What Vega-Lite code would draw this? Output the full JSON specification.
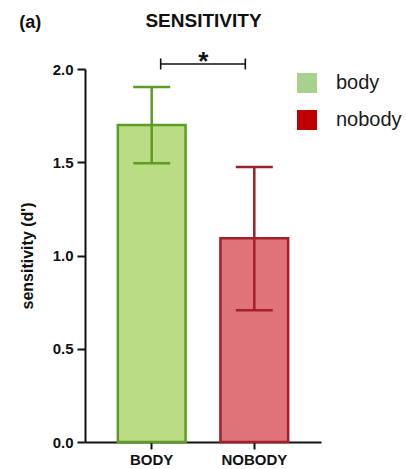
{
  "$schema": "https://vega.github.io/schema/vega-lite/v6.json",
  "width": 236,
  "height": 373,
  "autosize": "none",
  "padding": {"left": 85, "top": 69, "right": 85, "bottom": 27},
  "config": {"font": "Liberation Sans", "view": {"stroke": null}},
  "title": {"text": "(a)", "anchor": "start", "frame": "bounds", "fontSize": 18, "fontWeight": "bold", "color": "#111", "dy": 25},
  "datasets": {
    "bars": [
      {"condition": "BODY", "group": "body", "mean": 1.70, "lo": 1.495, "hi": 1.903},
      {"condition": "NOBODY", "group": "nobody", "mean": 1.093, "lo": 0.707, "hi": 1.475}
    ],
    "sig": [{"from": "BODY", "to": "NOBODY", "y": 2.027, "label": "*"}]
  },
  "resolve": {"axis": {"x": "independent"}},
  "layer": [
    {
      "data": {"name": "bars"},
      "mark": {"type": "bar", "strokeWidth": 2.5},
      "encoding": {
        "x": {"field": "condition", "type": "nominal", "sort": ["BODY", "NOBODY"],
          "scale": {"domain": ["BODY", "NOBODY"], "paddingInner": 0.34, "paddingOuter": 0.32},
          "axis": {"title": null, "labelAngle": 0, "domainColor": "#111", "domainWidth": 2, "tickColor": "#111", "tickWidth": 2, "tickSize": 7, "labelFontSize": 15, "labelFontWeight": "bold", "labelColor": "#111", "labelPadding": 3}},
        "y": {"field": "mean", "type": "quantitative",
          "scale": {"domain": [0, 2], "nice": false},
          "axis": {"title": "sensitivity (d')", "values": [0, 0.5, 1, 1.5, 2], "format": ".1f", "grid": false, "domainColor": "#111", "domainWidth": 2, "tickColor": "#111", "tickWidth": 2, "tickSize": 8, "labelFontSize": 15, "labelFontWeight": "bold", "labelColor": "#111", "labelPadding": 4, "titleFontSize": 16, "titleFontWeight": "bold", "titleColor": "#111", "titlePadding": 17}},
        "fill": {"field": "condition", "type": "nominal", "scale": {"domain": ["BODY", "NOBODY"], "range": ["#b9dc84", "#e0737a"]}, "legend": null},
        "stroke": {"field": "condition", "type": "nominal", "scale": {"domain": ["BODY", "NOBODY"], "range": ["#5e9c24", "#a31f29"]}, "legend": null}
      }
    },
    {
      "data": {"name": "bars"},
      "mark": {"type": "rule", "strokeWidth": 2.5},
      "encoding": {
        "x": {"field": "condition", "type": "nominal", "axis": null},
        "y": {"field": "lo", "type": "quantitative"},
        "y2": {"field": "hi"},
        "stroke": {"field": "condition", "type": "nominal", "legend": null}
      }
    },
    {
      "data": {"name": "bars"},
      "transform": [{"fold": ["lo", "hi"], "as": ["end", "v"]}],
      "mark": {"type": "rule", "strokeWidth": 2.5, "xOffset": -18.5, "x2Offset": 18.5},
      "encoding": {
        "x": {"field": "condition", "type": "nominal", "axis": null},
        "x2": {"field": "condition"},
        "y": {"field": "v", "type": "quantitative"},
        "stroke": {"field": "condition", "type": "nominal", "legend": null}
      }
    },
    {
      "data": {"name": "bars"},
      "mark": {"type": "point", "shape": "square", "filled": true, "opacity": 0},
      "encoding": {
        "x": {"field": "condition", "type": "nominal", "axis": null},
        "y": {"field": "mean", "type": "quantitative"},
        "color": {"field": "group", "type": "nominal",
          "scale": {"domain": ["body", "nobody"], "range": ["#a9d18e", "#c00000"]},
          "legend": {"title": null, "orient": "none", "legendX": 212, "legendY": 4, "padding": 0, "symbolType": "square", "symbolSize": 400, "symbolOpacity": 1, "symbolStrokeWidth": 0, "labelFontSize": 20, "labelColor": "#1a1a1a", "labelOffset": 19, "rowPadding": 17}}
      }
    },
    {
      "data": {"name": "sig"},
      "mark": {"type": "rule", "color": "#111", "strokeWidth": 1.6, "xOffset": 9, "x2Offset": -9},
      "encoding": {
        "x": {"field": "from", "type": "nominal",
          "axis": {"orient": "top", "domain": false, "ticks": false, "labels": false, "title": "SENSITIVITY", "titleFontSize": 19, "titleFontWeight": "bold", "titleColor": "#111", "titlePadding": 39}},
        "x2": {"field": "to"},
        "y": {"field": "y", "type": "quantitative"}
      }
    },
    {
      "data": {"name": "sig"},
      "mark": {"type": "rule", "color": "#111", "strokeWidth": 1.6, "xOffset": 9, "x2Offset": 9, "yOffset": -5.5, "y2Offset": 5.5},
      "encoding": {
        "x": {"field": "from", "type": "nominal", "axis": null},
        "x2": {"field": "from"},
        "y": {"field": "y", "type": "quantitative"},
        "y2": {"field": "y"}
      }
    },
    {
      "data": {"name": "sig"},
      "mark": {"type": "rule", "color": "#111", "strokeWidth": 1.6, "xOffset": -9, "x2Offset": -9, "yOffset": -5.5, "y2Offset": 5.5},
      "encoding": {
        "x": {"field": "to", "type": "nominal", "axis": null},
        "x2": {"field": "to"},
        "y": {"field": "y", "type": "quantitative"},
        "y2": {"field": "y"}
      }
    },
    {
      "data": {"name": "sig"},
      "mark": {"type": "text", "fontSize": 26, "fontWeight": "bold", "color": "#111", "dx": 51.5, "dy": 6, "baseline": "alphabetic", "align": "center"},
      "encoding": {
        "x": {"field": "from", "type": "nominal", "axis": null},
        "y": {"field": "y", "type": "quantitative"},
        "text": {"field": "label"}
      }
    }
  ]
}
